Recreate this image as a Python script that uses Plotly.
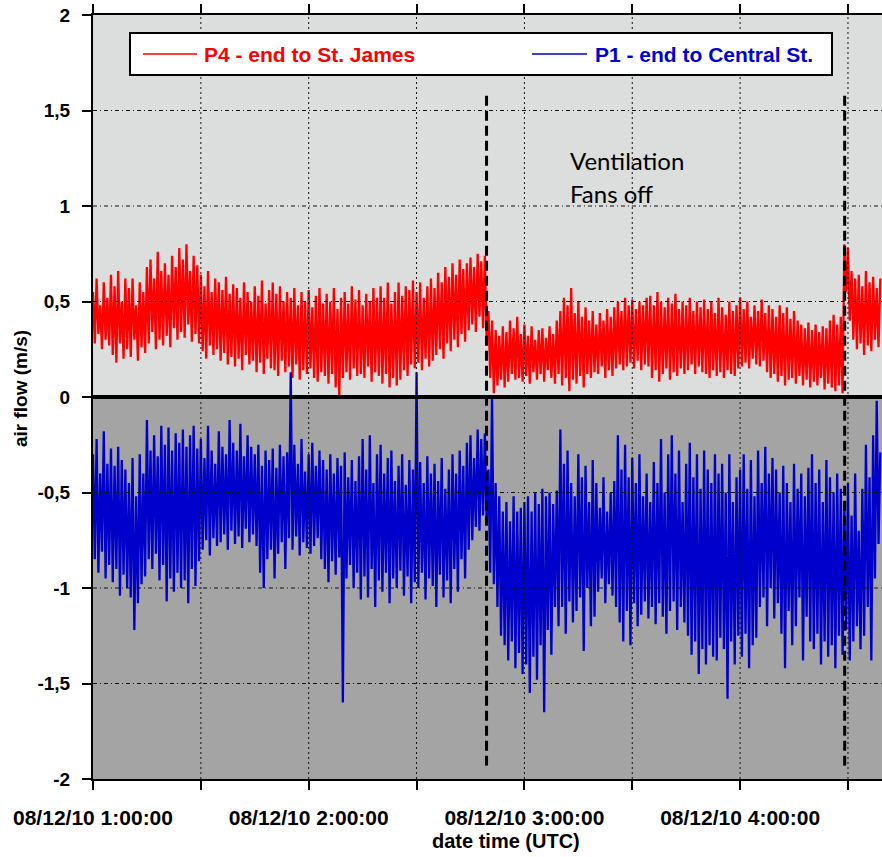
import pandas as pd
import plotly.graph_objects as go

# ---------------- data ----------------
start_time = "2010-08-12 01:00:00"
sample_seconds = 30

p4_values = [
    0.55,0.28,0.62,0.33,0.48,0.25,0.60,0.30,0.52,0.27,
    0.64,0.22,0.58,0.18,0.66,0.28,0.50,0.20,0.62,0.25,
    0.57,0.21,0.62,0.30,0.48,0.19,0.60,0.26,0.55,0.23,
    0.68,0.28,0.72,0.34,0.62,0.25,0.76,0.30,0.66,0.27,
    0.70,0.32,0.64,0.26,0.74,0.36,0.68,0.30,0.78,0.34,
    0.72,0.31,0.80,0.38,0.66,0.29,0.74,0.33,0.69,0.28,
    0.64,0.24,0.58,0.20,0.66,0.27,0.55,0.22,0.62,0.25,
    0.60,0.19,0.56,0.23,0.63,0.17,0.54,0.21,0.59,0.16,
    0.57,0.20,0.52,0.14,0.60,0.22,0.55,0.17,0.50,0.19,
    0.58,0.13,0.53,0.18,0.61,0.12,0.49,0.20,0.56,0.15,
    0.60,0.14,0.54,0.11,0.58,0.19,0.50,0.13,0.55,0.16,
    0.52,0.10,0.57,0.17,0.48,0.09,0.55,0.14,0.50,0.12,
    0.56,0.15,0.47,0.10,0.53,0.08,0.57,0.13,0.49,0.11,
    0.54,0.07,0.50,0.12,0.57,0.05,0.46,0.00,0.52,0.10,
    0.55,0.13,0.49,0.09,0.58,0.15,0.51,0.11,0.56,0.12,
    0.48,0.10,0.54,0.16,0.50,0.08,0.57,0.13,0.52,0.11,
    0.58,0.07,0.52,0.12,0.60,0.05,0.49,0.10,0.55,0.06,
    0.60,0.09,0.53,0.14,0.58,0.11,0.56,0.17,0.61,0.15,
    0.55,0.18,0.60,0.14,0.52,0.20,0.58,0.16,0.62,0.19,
    0.57,0.22,0.65,0.25,0.60,0.20,0.68,0.28,0.63,0.24,
    0.70,0.30,0.64,0.26,0.72,0.33,0.67,0.29,0.70,0.35,
    0.73,0.38,0.68,0.34,0.75,0.42,0.71,0.36,0.74,0.30,
    0.45,0.10,0.40,0.02,0.35,0.06,0.32,0.09,0.37,0.05,
    0.34,0.08,0.40,0.12,0.36,0.09,0.42,0.10,0.33,0.08,
    0.38,0.11,0.32,0.07,0.37,0.13,0.30,0.09,0.35,0.12,
    0.36,0.08,0.31,0.14,0.37,0.10,0.33,0.07,0.40,0.12,
    0.45,0.06,0.52,0.10,0.48,0.03,0.57,0.09,0.44,0.07,
    0.50,0.11,0.42,0.05,0.47,0.12,0.40,0.10,0.45,0.13,
    0.38,0.12,0.44,0.16,0.40,0.10,0.46,0.14,0.42,0.11,
    0.47,0.15,0.50,0.17,0.45,0.14,0.52,0.16,0.48,0.18,
    0.51,0.15,0.46,0.19,0.50,0.14,0.48,0.17,0.52,0.16,
    0.53,0.10,0.48,0.14,0.55,0.08,0.50,0.12,0.47,0.15,
    0.52,0.09,0.49,0.13,0.54,0.11,0.46,0.15,0.50,0.12,
    0.48,0.14,0.52,0.17,0.45,0.12,0.50,0.16,0.47,0.13,
    0.51,0.12,0.46,0.10,0.50,0.14,0.44,0.11,0.52,0.13,
    0.47,0.10,0.43,0.14,0.50,0.12,0.45,0.11,0.48,0.15,
    0.52,0.16,0.46,0.18,0.50,0.15,0.42,0.20,0.48,0.17,
    0.45,0.16,0.51,0.19,0.44,0.13,0.48,0.10,0.46,0.12,
    0.42,0.08,0.48,0.11,0.44,0.06,0.47,0.09,0.41,0.10,
    0.45,0.07,0.40,0.11,0.38,0.06,0.36,0.09,0.39,0.05,
    0.35,0.08,0.38,0.06,0.34,0.10,0.37,0.04,0.36,0.07,
    0.40,0.05,0.43,0.03,0.38,0.06,0.42,0.02,0.80,0.55,
    0.78,0.40,0.66,0.30,0.62,0.25,0.64,0.28,0.58,0.22,
    0.66,0.27,0.60,0.24,0.63,0.30,0.57,0.26,0.62,
]

p1_values = [
    -0.30,-0.85,-0.22,-0.92,-0.40,-0.81,-0.18,-0.95,-0.35,-0.88,
    -0.27,-0.97,-0.36,-0.90,-0.26,-1.04,-0.33,-0.93,-0.38,-1.00,
    -0.45,-1.05,-0.32,-1.22,-0.52,-1.08,-0.30,-0.98,-0.40,-0.94,
    -0.12,-0.85,-0.28,-0.90,-0.20,-0.82,-0.31,-0.96,-0.15,-0.88,
    -0.25,-1.07,-0.16,-0.95,-0.28,-1.02,-0.19,-0.92,-0.24,-1.00,
    -0.17,-0.96,-0.26,-1.08,-0.20,-0.90,-0.15,-0.99,-0.27,-0.86,
    -0.22,-0.80,-0.32,-0.75,-0.15,-0.83,-0.28,-0.74,-0.35,-0.78,
    -0.18,-0.76,-0.26,-0.72,-0.30,-0.80,-0.12,-0.70,-0.24,-0.77,
    -0.28,-0.73,-0.14,-0.79,-0.31,-0.69,-0.20,-0.76,-0.26,-0.72,
    -0.30,-0.78,-0.25,-0.92,-0.36,-1.00,-0.28,-0.85,-0.33,-0.80,
    -0.27,-0.95,-0.37,-0.82,-0.25,-0.76,-0.31,-0.90,-0.29,-0.74,
    0.13,-0.80,-0.25,-0.73,-0.35,-0.83,-0.22,-0.76,-0.39,-0.79,
    -0.30,-0.82,-0.24,-0.78,-0.36,-0.74,-0.28,-0.85,-0.33,-0.90,
    -0.38,-0.97,-0.30,-0.86,-0.40,-0.93,-0.32,-0.84,-0.36,-1.60,
    -0.29,-0.95,-0.42,-0.88,-0.33,-1.00,-0.44,-0.92,-0.31,-1.06,
    -0.22,-0.94,-0.38,-1.05,-0.20,-0.90,-0.45,-1.10,-0.30,-0.96,
    -0.25,-1.02,-0.40,-0.92,-0.32,-1.08,-0.28,-0.95,-0.44,-1.00,
    -0.36,-0.91,-0.30,-1.04,-0.46,-0.94,-0.33,-1.08,-0.38,-0.97,
    0.13,-1.00,-0.34,-0.92,-0.45,-1.06,-0.31,-0.95,-0.40,-0.99,
    -0.35,-1.10,-0.44,-0.93,-0.32,-1.05,-0.48,-0.96,-0.38,-1.08,
    -0.30,-0.90,-0.40,-1.02,-0.28,-0.85,-0.36,-0.95,-0.24,-0.80,
    -0.20,-0.75,-0.32,-0.68,-0.17,-0.70,-0.22,-0.62,-0.19,-0.66,
    -0.38,-0.92,0.00,-0.98,-0.45,-1.10,-0.52,-1.25,-0.60,-1.30,
    -0.55,-1.38,-0.65,-1.28,-0.52,-1.42,-0.60,-1.34,-0.58,-1.45,
    -0.55,-1.40,-0.52,-1.55,-0.60,-1.36,-0.50,-1.48,-0.56,-1.30,
    -0.48,-1.65,-0.52,-1.22,-0.50,-1.35,-0.56,-1.10,-0.49,-1.20,
    -0.17,-1.10,-0.35,-1.24,-0.28,-1.07,-0.45,-1.18,-0.52,-1.12,
    -0.30,-1.05,-0.42,-1.33,-0.36,-1.00,-0.55,-1.20,-0.33,-1.15,
    -0.45,-1.02,-0.58,-0.95,-0.42,-1.08,-0.60,-0.98,-0.50,-1.04,
    -0.44,-1.10,-0.20,-1.18,-0.38,-1.28,-0.25,-1.12,-0.42,-1.30,
    -0.32,-1.08,-0.45,-1.20,-0.30,-1.14,-0.52,-1.07,-0.40,-1.16,
    -0.55,-1.10,-0.34,-1.19,-0.45,-1.08,-0.22,-1.15,-0.50,-1.24,
    -0.30,-1.12,-0.20,-1.07,-0.40,-1.22,-0.28,-1.10,-0.55,-1.18,
    -0.35,-1.25,-0.24,-1.35,-0.42,-1.28,-0.30,-1.45,-0.48,-1.32,
    -0.28,-1.40,-0.38,-1.30,-0.45,-1.36,-0.30,-1.38,-0.40,-1.26,
    -0.35,-1.32,-0.50,-1.58,-0.30,-1.28,-0.55,-1.40,-0.42,-1.25,
    -0.38,-1.36,-0.30,-1.24,-0.48,-1.42,-0.33,-1.30,-0.52,-1.26,
    -0.28,-1.10,-0.45,-1.05,-0.26,-1.20,-0.40,-1.00,-0.32,-1.16,
    -0.38,-1.08,-0.50,-1.24,-0.36,-1.42,-0.45,-1.12,-0.55,-1.30,
    -0.35,-1.20,-0.48,-1.05,-0.40,-1.38,-0.52,-1.15,-0.37,-1.28,
    -0.30,-1.32,-0.45,-1.24,-0.38,-1.40,-0.55,-1.28,-0.33,-1.36,
    -0.42,-1.30,-0.50,-1.42,-0.40,-1.25,-0.48,-1.35,-0.55,-1.22,
    -0.45,-1.38,-0.62,-1.28,-0.40,-1.20,-0.70,-1.32,-0.48,-1.25,
    -0.25,-1.10,-0.42,-1.38,-0.20,-0.95,-0.02,-0.77,-0.29,
]

series_names = ["P4 - end to St. James", "P1 - end to Central St."]
series_colors = ["#ff0000", "#0000cc"]

x_range = ["2010-08-12 01:00:00", "2010-08-12 04:39:28"]
x_tick_vals = ["2010-08-12 01:00:00", "2010-08-12 01:30:00", "2010-08-12 02:00:00",
               "2010-08-12 02:30:00", "2010-08-12 03:00:00", "2010-08-12 03:30:00",
               "2010-08-12 04:00:00", "2010-08-12 04:30:00"]
x_tick_text = ["08/12/10 1:00:00", "", "08/12/10 2:00:00", "", "08/12/10 3:00:00", "",
               "08/12/10 4:00:00", ""]
y_tick_vals = [-2, -1.5, -1, -0.5, 0, 0.5, 1, 1.5, 2]
y_tick_text = ["-2", "-1,5", "-1", "-0,5", "0", "0,5", "1", "1,5", "2"]

fans_events = ["2010-08-12 02:49:28", "2010-08-12 04:29:05"]
event_line_span = [-1.93, 1.6]

x_title = "date time (UTC)"
y_title = "air flow (m/s)"
note_lines = ["Ventilation", "Fans off"]

# ---------------- figure ----------------
t0 = pd.Timestamp(start_time)
def times_for(vals):
    return [t0 + pd.Timedelta(seconds=sample_seconds * i) for i in range(len(vals))]

fig = go.Figure()
for vals, name, col in zip([p4_values, p1_values], series_names, series_colors):
    fig.add_trace(go.Scatter(x=times_for(vals), y=vals, mode="lines", name=name,
                             line=dict(color=col, width=2.3), showlegend=False,
                             hoverinfo="skip"))

bold = "Liberation Sans"
shapes = []
# two-tone background
shapes.append(dict(type="rect", xref="paper", yref="y", x0=0, x1=1, y0=0, y1=y_tick_vals[-1],
                   fillcolor="#dcdddd", line=dict(width=0), layer="below"))
shapes.append(dict(type="rect", xref="paper", yref="y", x0=0, x1=1, y0=y_tick_vals[0], y1=0,
                   fillcolor="#a4a4a4", line=dict(width=0), layer="below"))
# grid lines drawn above data
for xv in x_tick_vals[1:]:
    shapes.append(dict(type="line", xref="x", yref="paper", x0=xv, x1=xv, y0=0, y1=1,
                       line=dict(color="#111111", width=1, dash="2px,3px"), layer="above"))
for yv in y_tick_vals[1:-1]:
    if yv == 0:
        continue
    shapes.append(dict(type="line", xref="paper", yref="y", x0=0, x1=1, y0=yv, y1=yv,
                       line=dict(color="#111111", width=1, dash="4px,3px,1px,3px"), layer="above"))
# zero line
shapes.append(dict(type="line", xref="paper", yref="y", x0=0, x1=1, y0=0, y1=0,
                   line=dict(color="black", width=4), layer="above"))
# fans-off markers
for ev in fans_events:
    shapes.append(dict(type="line", xref="x", yref="y", x0=ev, x1=ev,
                       y0=event_line_span[0], y1=event_line_span[1],
                       line=dict(color="black", width=3, dash="10px,5px"), layer="above"))

# legend (drawn manually)
W, L, R, T, B = 882, 93, 0, 15, 78
pw = W - L - R
ph = 857 - T - B
def px(x):
    return (x - L) / pw
def py(y):
    return (857 - B - y) / ph

shapes.append(dict(type="rect", xref="paper", yref="paper", x0=px(130), x1=px(832),
                   y0=py(75), y1=py(33), fillcolor="white",
                   line=dict(color="black", width=2), layer="above"))
shapes.append(dict(type="line", xref="paper", yref="paper", x0=px(143), x1=px(197),
                   y0=py(54), y1=py(54), line=dict(color=series_colors[0], width=1.5),
                   layer="above"))
shapes.append(dict(type="line", xref="paper", yref="paper", x0=px(532), x1=px(587),
                   y0=py(54), y1=py(54), line=dict(color=series_colors[1], width=1.5),
                   layer="above"))

annotations = [
    dict(text="<b>" + series_names[0] + "</b>", xref="paper", yref="paper", x=px(202), y=py(54),
         xanchor="left", yanchor="middle", showarrow=False,
         font=dict(family=bold, size=21, color=series_colors[0])),
    dict(text="<b>" + series_names[1] + "</b>", xref="paper", yref="paper", x=px(593), y=py(54),
         xanchor="left", yanchor="middle", showarrow=False,
         font=dict(family=bold, size=21, color=series_colors[1])),
    dict(text=note_lines[0], xref="paper", yref="paper", x=px(568), y=py(160),
         xanchor="left", yanchor="middle", showarrow=False,
         font=dict(family="Lato", size=24, color="black")),
    dict(text=note_lines[1], xref="paper", yref="paper", x=px(568), y=py(193),
         xanchor="left", yanchor="middle", showarrow=False,
         font=dict(family="Lato", size=24, color="black")),
    dict(text="<b>" + x_title + "</b>", xref="paper", yref="paper", x=px(506), y=py(841),
         xanchor="center", yanchor="middle", showarrow=False,
         font=dict(family=bold, size=20, color="black")),
    dict(text="<b>" + y_title + "</b>", xref="paper", yref="paper", x=px(20), y=py(389),
         xanchor="center", yanchor="middle", showarrow=False, textangle=-90,
         font=dict(family=bold, size=19, color="black")),
]

fig.update_layout(
    width=882, height=857,
    margin=dict(l=L, r=R, t=T, b=B, pad=0),
    paper_bgcolor="white", plot_bgcolor="#dcdddd",
    shapes=shapes, annotations=annotations,
    showlegend=False,
    xaxis=dict(type="date", range=x_range, tickmode="array", tickvals=x_tick_vals,
               ticktext=x_tick_text, showgrid=False, zeroline=False,
               showline=True, linecolor="black", linewidth=2, mirror="ticks",
               ticks="outside", ticklen=9, tickwidth=1.5, tickcolor="black",
               ticklabelstandoff=10,
               tickfont=dict(family=bold, size=21, color="black", weight="bold")),
    yaxis=dict(range=[y_tick_vals[0], y_tick_vals[-1]], tickmode="array", tickvals=y_tick_vals,
               ticktext=y_tick_text, showgrid=False, zeroline=False,
               showline=True, linecolor="black", linewidth=2, mirror=False,
               ticks="outside", ticklen=9, tickwidth=1.5, tickcolor="black",
               ticklabelstandoff=8,
               tickfont=dict(family=bold, size=19, color="black", weight="bold")),
)

fig.write_html("out.html")
